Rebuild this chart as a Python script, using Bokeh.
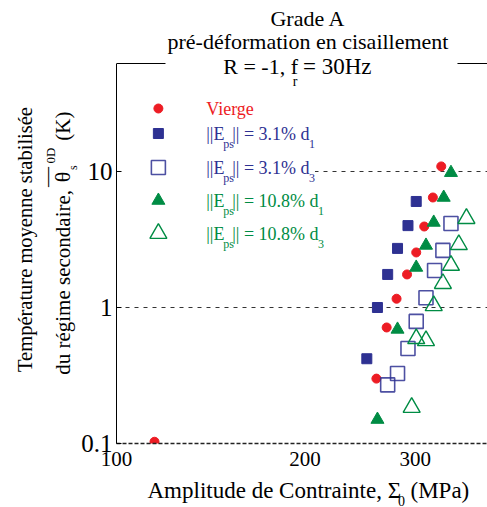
import math
from bokeh.plotting import figure
from bokeh.layouts import column, row
from bokeh.models import (Label, BoxAnnotation, FixedTicker, NumeralTickFormatter, Range1d)
from bokeh.embed import file_html
from bokeh.resources import INLINE

# ---------------- data ----------------
vierge_x = [115, 330, 320, 310, 301, 291, 280, 270, 260]
vierge_y = [0.103, 10.9, 6.44, 3.94, 2.54, 1.75, 1.16, 0.713, 0.30]

e31_d1_x = [301, 292, 281, 271, 261, 251]
e31_d1_y = [6.02, 4.0, 2.72, 1.75, 1.0, 0.42]

e31_d3_x = [342, 332, 322, 312, 301, 292, 281, 271]
e31_d3_y = [4.15, 2.63, 1.87, 1.18, 0.79, 0.50, 0.327, 0.27]

e108_d1_x = [342, 333, 321, 312, 301, 281, 261]
e108_d1_y = [9.8, 6.44, 4.22, 2.86, 1.97, 0.69, 0.15]

e108_d3_x = [362, 352, 342, 332, 321, 312, 301, 296]
e108_d3_y = [4.51, 2.9, 2.04, 1.5, 1.03, 0.57, 0.59, 0.184]

x_ticks = [100, 200, 300]
y_ticks = [0.1, 1, 10]

RED = "#ED1C24"
BLUE = "#2E3192"
GREEN = "#008C44"
FONT = "Liberation Serif"

# ---------------- geometry (page pixels) ----------------
TOTAL_W, TOTAL_H = 487, 507
YW = 78          # width of the y-label strip
MH = 477         # height of the main figure
FRAME_L, FRAME_B = 115, 443
PX_DEC_X = 628.0
PX_DEC_Y = 136.0
X_END = 100 * 10 ** ((TOTAL_W - FRAME_L) / PX_DEC_X)
Y_TOP = 0.1 * 10 ** (FRAME_B / PX_DEC_Y)


def dx(px):
    return 100 * 10 ** ((px - FRAME_L) / PX_DEC_X)


def dy(py):
    return 0.1 * 10 ** ((FRAME_B - py) / PX_DEC_Y)


p = figure(width=TOTAL_W - YW, height=MH, x_axis_type="log", y_axis_type="log",
           x_range=Range1d(100, X_END), y_range=Range1d(0.1, Y_TOP),
           output_backend="svg", toolbar_location=None,
           min_border_left=FRAME_L - YW, min_border_right=0,
           min_border_top=0, min_border_bottom=MH - FRAME_B)
p.outline_line_color = None
p.background_fill_color = "white"
p.border_fill_color = "white"

p.xgrid.visible = False
p.ygrid.ticker = FixedTicker(ticks=[1, 10])
p.ygrid.grid_line_color = "#333333"
p.ygrid.grid_line_dash = "4 5"
p.ygrid.grid_line_width = 1

xa = p.xaxis[0]
xa.ticker = FixedTicker(ticks=x_ticks)
xa.formatter = NumeralTickFormatter(format="0")
xa.major_tick_line_color = None
xa.major_tick_in = 0
xa.major_tick_out = 0
xa.minor_tick_line_color = None
xa.axis_line_color = "#222222"
xa.axis_line_width = 1.5
xa.axis_line_dash = "4 2"
xa.major_label_text_font = FONT
xa.major_label_text_font_size = "21px"
xa.major_label_text_color = "black"
xa.major_label_standoff = 8

ya = p.yaxis[0]
ya.ticker = FixedTicker(ticks=y_ticks)
ya.formatter = NumeralTickFormatter(format="0.[0]")
ya.bounds = (0.1, dy(63))
ya.major_tick_in = 5
ya.major_tick_out = 0
ya.minor_tick_line_color = None
ya.axis_line_color = "black"
ya.major_label_text_font = FONT
ya.major_label_text_font_size = "25px"
ya.major_label_text_color = "black"
ya.major_label_standoff = 4

# top border of the plotting area
p.segment(x0=[100], y0=[dy(63)], x1=[X_END], y1=[dy(63)], line_color="black", line_width=1)

# white legend background
p.add_layout(BoxAnnotation(left=100, right=dx(314), top=dy(92), bottom=dy(250),
                           fill_color="white", fill_alpha=1, line_color=None,
                           level="underlay"))

# ---------------- series ----------------
p.scatter(vierge_x, vierge_y, marker="circle", size=9, fill_color=RED, line_color=RED)
p.scatter(e31_d1_x, e31_d1_y, marker="square", size=10, fill_color=BLUE, line_color=BLUE)
p.scatter(e31_d3_x, e31_d3_y, marker="square", size=14, fill_color=None,
          line_color=BLUE, line_width=1.6, line_alpha=0.85)
p.scatter(e108_d1_x, e108_d1_y, marker="triangle", size=13, fill_color=GREEN, line_color=GREEN)
p.scatter(e108_d3_x, e108_d3_y, marker="triangle", size=17, fill_color=None,
          line_color=GREEN, line_width=1.4)


def lab(fig, text, x, y, size, color="black", align="left", baseline="middle", angle=0, **kw):
    l = Label(x=x, y=y, text=text, text_font=FONT,
              text_font_size=f"{size}px", text_color=color, text_align=align,
              text_baseline=baseline, angle=angle, **kw)
    fig.add_layout(l)
    return l


def mlab(text, px, py, size, color="black", **kw):
    return lab(p, text, dx(px), dy(py), size, color, **kw)


# ---------------- legend ----------------
leg_rows = [108, 133, 167, 200, 233]
LX = dx(157)
p.scatter([LX], [dy(leg_rows[0])], marker="circle", size=9, fill_color=RED, line_color=RED)
p.scatter([LX], [dy(leg_rows[1])], marker="square", size=10, fill_color=BLUE, line_color=BLUE)
p.scatter([LX], [dy(leg_rows[2])], marker="square", size=14, fill_color=None,
          line_color=BLUE, line_width=1.6, line_alpha=0.85)
p.scatter([LX], [dy(leg_rows[3])], marker="triangle", size=13, fill_color=GREEN, line_color=GREEN)
p.scatter([LX], [dy(leg_rows[4])], marker="triangle", size=17, fill_color=None,
          line_color=GREEN, line_width=1.4)

mlab("Vierge", 205, leg_rows[0], 18, RED)
leg_entries = [("3.1%", "1", BLUE, 308), ("3.1%", "3", BLUE, 308),
               ("10.8%", "1", GREEN, 317), ("10.8%", "3", GREEN, 317)]
for (pct, d, col, sx), ry in zip(leg_entries, leg_rows[1:]):
    mlab("||E", 205, ry, 18, col)
    mlab("ps", 222, ry + 10, 12, col)
    mlab(f"|| = {pct} d", 231, ry, 18, col)
    mlab(d, sx, ry + 10, 12, col)

# ---------------- title ----------------
# padding = (left, right, top, bottom); the white box hides the top border
mlab("pré-déformation en cisaillement", 310.5, 48.5, 22, align="center",
     background_fill_color="white", padding=(2, 9, 0, 15))
mlab("Grade A", 307, 18, 22, align="center")
mlab("R = -1, f", 297, 66, 22, align="right")
mlab("r", 294, 81, 14, align="center")
mlab("= 30Hz", 302, 66, 23, align="left")


# ---------------- text strips ----------------
def text_fig(w, h):
    f = figure(width=w, height=h, x_range=Range1d(0, w), y_range=Range1d(h, 0),
               x_axis_location=None, y_axis_location=None,
               toolbar_location=None, output_backend="svg", min_border=0)
    f.grid.visible = False
    f.outline_line_color = None
    f.background_fill_color = "white"
    f.border_fill_color = "white"
    return f


# y label strip (page coords == local coords)
yfig = text_fig(YW, MH)
A = math.pi / 2
lab(yfig, "Température moyenne stabilisée", 24, 400, 20.5, align="left", angle=A)
lab(yfig, "du régime secondaire,", 62, 403, 21, align="left", angle=A)
lab(yfig, "θ", 62, 190, 22, align="center", angle=A)
lab(yfig, "—", 46, 190, 20, align="center", angle=A)
lab(yfig, "s", 72, 180, 12, align="center", angle=A)
lab(yfig, "0D", 50, 167, 13, align="center", angle=A)
lab(yfig, "(K)", 62, 151, 21, align="left", angle=A)

# x label strip (local y = page y - MH)
XH = TOTAL_H - MH
xfig = text_fig(TOTAL_W, XH)
lab(xfig, "Amplitude de Contrainte, Σ", 147, 490 - MH, 23)
lab(xfig, "0", 401, 500 - MH, 14, align="center")
lab(xfig, "(MPa)", 410, 490 - MH, 23)

layout = column(row(yfig, p), xfig)
open("out.html", "w").write(file_html(layout, INLINE))
